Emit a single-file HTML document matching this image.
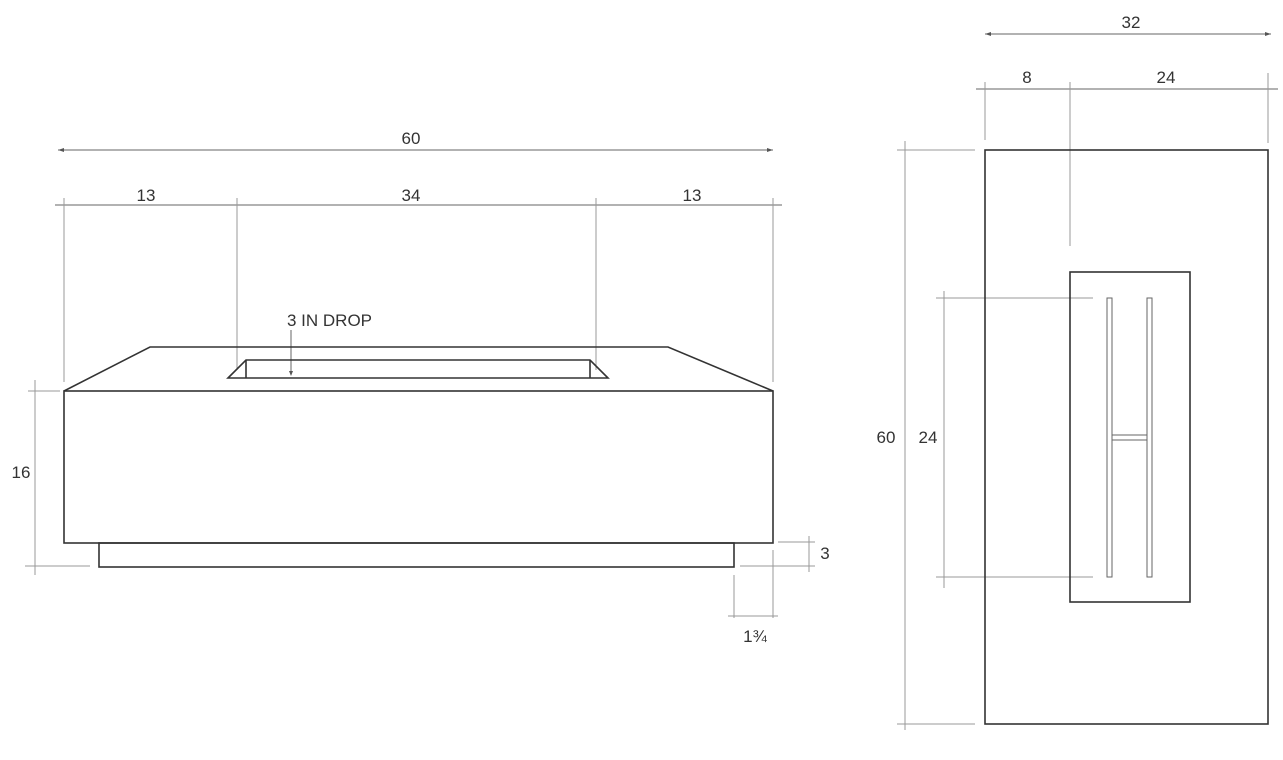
<!DOCTYPE html>
<html><head><meta charset="utf-8"><style>
html,body{margin:0;padding:0;background:#fff;}
svg{display:block;}
text{font-family:"Liberation Sans",sans-serif;font-size:17px;fill:#333;}
</style></head><body>
<svg width="1283" height="760" viewBox="0 0 1283 760">
<rect width="1283" height="760" fill="#fff"/>
<g stroke="#666" stroke-width="1" fill="none">
<line x1="58" y1="150" x2="773" y2="150"/>
<line x1="55" y1="205" x2="782" y2="205"/>
<line x1="64" y1="198" x2="64" y2="382" stroke="#999"/>
<line x1="237" y1="198" x2="237" y2="370" stroke="#999"/>
<line x1="596" y1="198" x2="596" y2="370" stroke="#999"/>
<line x1="773" y1="198" x2="773" y2="382" stroke="#999"/>
<line x1="35" y1="380" x2="35" y2="575" stroke="#999"/>
<line x1="28" y1="391" x2="60" y2="391" stroke="#999"/>
<line x1="25" y1="566" x2="90" y2="566" stroke="#999"/>
<line x1="809" y1="536" x2="809" y2="572" stroke="#999"/>
<line x1="778" y1="542" x2="815" y2="542" stroke="#999"/>
<line x1="740" y1="566" x2="815" y2="566" stroke="#999"/>
<line x1="734" y1="575" x2="734" y2="618" stroke="#999"/>
<line x1="773" y1="550" x2="773" y2="618" stroke="#999"/>
<line x1="728" y1="616" x2="778" y2="616" stroke="#999"/>
<line x1="291" y1="330" x2="291" y2="373"/>
<line x1="985" y1="34" x2="1271" y2="34"/>
<line x1="976" y1="89" x2="1278" y2="89"/>
<line x1="985" y1="82" x2="985" y2="140" stroke="#999"/>
<line x1="1070" y1="82" x2="1070" y2="246" stroke="#999"/>
<line x1="1268" y1="73" x2="1268" y2="143" stroke="#999"/>
<line x1="905" y1="141" x2="905" y2="730" stroke="#999"/>
<line x1="897" y1="150" x2="975" y2="150" stroke="#999"/>
<line x1="897" y1="724" x2="975" y2="724" stroke="#999"/>
<line x1="944" y1="291" x2="944" y2="588" stroke="#999"/>
<line x1="936" y1="298" x2="1093" y2="298" stroke="#999"/>
<line x1="936" y1="577" x2="1093" y2="577" stroke="#999"/>
</g>
<g fill="#555">
<polygon points="58,150 64,148 64,152"/>
<polygon points="773,150 767,148 767,152"/>
<polygon points="985,34 991,32 991,36"/>
<polygon points="1271,34 1265,32 1265,36"/>
<polygon points="291,376 289,371 293,371"/>
</g>
<g stroke="#333" stroke-width="1.6" fill="none">
<polyline points="64,391 150,347 668,347 773,391"/>
<rect x="64" y="391" width="709" height="152"/>
<rect x="99" y="543" width="635" height="24"/>
<polygon points="228,378 246,360 590,360 608,378"/>
<line x1="246" y1="360" x2="246" y2="378"/>
<line x1="590" y1="360" x2="590" y2="378"/>
<rect x="985" y="150" width="283" height="574"/>
<rect x="1070" y="272" width="120" height="330"/>
</g>
<g stroke="#666" stroke-width="1" fill="none">
<rect x="1107" y="298" width="5" height="279"/>
<rect x="1147" y="298" width="5" height="279"/>
<rect x="1112" y="435" width="35" height="5"/>
</g>
<text x="411" y="144" text-anchor="middle">60</text>
<text x="146" y="201" text-anchor="middle">13</text>
<text x="411" y="201" text-anchor="middle">34</text>
<text x="692" y="201" text-anchor="middle">13</text>
<text x="287" y="326">3 IN DROP</text>
<text x="21" y="478" text-anchor="middle">16</text>
<text x="825" y="559" text-anchor="middle">3</text>
<text x="755" y="642" text-anchor="middle">1¾</text>
<text x="1131" y="28" text-anchor="middle">32</text>
<text x="1027" y="83" text-anchor="middle">8</text>
<text x="1166" y="83" text-anchor="middle">24</text>
<text x="886" y="443" text-anchor="middle">60</text>
<text x="928" y="443" text-anchor="middle">24</text>
</svg>
</body></html>
